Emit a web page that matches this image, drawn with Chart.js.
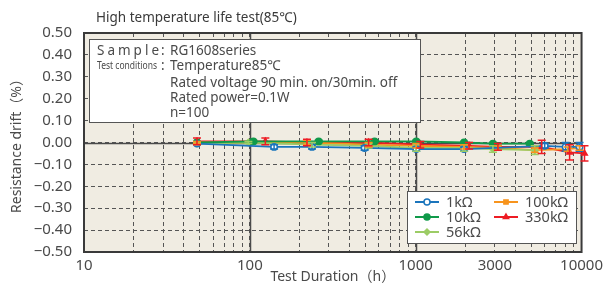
<!DOCTYPE html>
<html>
<head>
<meta charset="utf-8">
<script src="https://cdn.jsdelivr.net/npm/chart.js@4.4.0/dist/chart.umd.min.js"></script>
<style>
  html, body { margin: 0; padding: 0; background: #fff; }
</style>
</head>
<body>
<canvas id="lifeChart" width="608" height="284"></canvas>
<script>
// hours (each series is slightly offset in the original)
const oneKX = [48, 140, 237, 492, 1008, 1958, 5996, 8017, 9726];
const oneKY = [-0.005, -0.02, -0.02, -0.025, -0.03, -0.03, -0.015, -0.02, -0.02];
const oneKErr = [0.005, 0.01, 0.01, 0.01, 0.01, 0.01, 0.01, 0.02, 0.02];

const tenKX = [48, 105, 260, 565, 1008, 1958, 2922, 4872];
const tenKY = [0, 0.005, 0.005, 0.005, 0.005, 0, -0.005, -0.005];
const tenKErr = [0.005, 0.005, 0.005, 0.005, 0.005, 0.005, 0.005, 0.005];

const fiftySixKX = [48, 98, 237, 520, 1008, 1958, 2922, 5221];
const fiftySixKY = [-0.005, 0, -0.01, -0.015, -0.025, -0.025, -0.03, -0.035];
const fiftySixKErr = [0.005, 0.005, 0.01, 0.01, 0.015, 0.015, 0.015, 0.02];

const hundredKX = [48, 221, 520, 1008, 1958, 3131, 5221, 8241, 9726];
const hundredKY = [0, 0, -0.01, -0.015, -0.02, -0.025, -0.035, -0.03, -0.025];
const hundredKErr = [0.005, 0.01, 0.01, 0.01, 0.01, 0.01, 0.01, 0.01, 0.01];

const threeThirtyKX = [48, 124, 221, 520, 1066, 2098, 3131, 5750, 8472, 10420];
const threeThirtyKY = [0.005, 0.005, 0, 0, -0.01, -0.015, -0.02, -0.02, -0.045, -0.05];
const threeThirtyKErr = [0.015, 0.015, 0.015, 0.015, 0.015, 0.015, 0.015, 0.03, 0.035, 0.035];

const gridHours = [10, 20, 30, 40, 50, 60, 70, 80, 90,
  100, 200, 300, 400, 500, 600, 700, 800, 900,
  1000, 2000, 3000, 4000, 5000, 6000, 7000, 8000, 9000, 10000];
const hourLabels = [10, 100, 1000, 3000, 10000];

const FONT = '"Noto Sans", "Noto Sans CJK JP", sans-serif';
const TEXT = '#4a4a4a';

function pts(xs, ys) {
  return xs.map((x, i) => ({ x: x, y: ys[i] }));
}

function series(label, xs, ys, errs, color, style, fill) {
  return {
    label: label,
    data: pts(xs, ys),
    errors: errs,
    borderColor: color,
    backgroundColor: fill,
    pointBackgroundColor: fill,
    pointBorderColor: color,
    pointStyle: style,
    pointRadius: 3.2,
    pointBorderWidth: 1.5,
    borderWidth: 1.8,
    showLine: true,
    clip: 10
  };
}

const datasets = [
  series('1kΩ', oneKX, oneKY, oneKErr, '#1b75bc', 'circle', '#ffffff'),
  series('10kΩ', tenKX, tenKY, tenKErr, '#109a4a', 'circle', '#109a4a'),
  series('56kΩ', fiftySixKX, fiftySixKY, fiftySixKErr, '#9ccc65', 'rectRot', '#9ccc65'),
  series('100kΩ', hundredKX, hundredKY, hundredKErr, '#f7941d', 'rect', '#f7941d'),
  series('330kΩ', threeThirtyKX, threeThirtyKY, threeThirtyKErr, '#ed1c24', 'triangle', '#ed1c24')
];

const framePlugin = {
  id: 'frame',
  beforeDraw(chart) {
    const { ctx, chartArea: a } = chart;
    ctx.save();
    ctx.fillStyle = '#f0ece2';
    ctx.fillRect(a.left, a.top, a.right - a.left, a.bottom - a.top);
    ctx.restore();
  },
  beforeDatasetsDraw(chart) {
    const { ctx, chartArea: a, scales: { x, y } } = chart;
    ctx.save();
    ctx.strokeStyle = '#4a4a4a';
    ctx.lineWidth = 1.5;
    ctx.beginPath();
    [100, 1000].forEach(v => {
      const px = Math.round(x.getPixelForValue(v)) + 0.5;
      ctx.moveTo(px, a.top);
      ctx.lineTo(px, a.bottom);
    });
    const zy = Math.round(y.getPixelForValue(0)) + 0.5;
    ctx.moveTo(a.left, zy);
    ctx.lineTo(a.right, zy);
    ctx.stroke();
    ctx.lineWidth = 2;
    ctx.strokeStyle = '#3a3a3a';
    ctx.strokeRect(a.left, a.top, a.right - a.left, a.bottom - a.top);
    ctx.restore();
  }
};

const errorBarPlugin = {
  id: 'errorBars',
  afterDatasetsDraw(chart) {
    const { ctx, scales: { x, y } } = chart;
    chart.data.datasets.forEach(ds => {
      ctx.save();
      ctx.strokeStyle = ds.borderColor;
      ctx.lineWidth = 1.5;
      ctx.beginPath();
      ds.data.forEach((p, j) => {
        const e = ds.errors[j];
        const px = x.getPixelForValue(p.x);
        const t = y.getPixelForValue(p.y + e);
        const b = y.getPixelForValue(p.y - e);
        ctx.moveTo(px, t); ctx.lineTo(px, b);
        ctx.moveTo(px - 4, t); ctx.lineTo(px + 4, t);
        ctx.moveTo(px - 4, b); ctx.lineTo(px + 4, b);
      });
      ctx.stroke();
      ctx.restore();
    });
  }
};

const notesPlugin = {
  id: 'notes',
  afterDraw(chart) {
    const ctx = chart.ctx;
    ctx.save();
    ctx.fillStyle = '#3a3a3a';
    ctx.textBaseline = 'middle';
    ctx.font = '13.5px ' + FONT;
    ctx.fillText('High temperature life test(85℃)', 96, 18);

    // condition box
    ctx.fillStyle = '#fff';
    ctx.fillRect(89.5, 39.5, 331, 83);
    ctx.strokeStyle = '#555';
    ctx.lineWidth = 1;
    ctx.strokeRect(89.5, 39.5, 331, 83);

    ctx.fillStyle = '#4a4a4a';
    ctx.font = '13.5px ' + FONT;
    ctx.letterSpacing = '3px';
    ctx.fillText('Sample', 97, 51);
    ctx.letterSpacing = '0px';
    ctx.fillText(':', 161, 51);
    ctx.fillText('RG1608series', 170, 51);
    ctx.font = '11px ' + FONT;
    ctx.fillText('Test conditions', 97, 66, 60);
    ctx.font = '13.5px ' + FONT;
    ctx.fillText(':', 161, 66);
    ctx.fillText('Temperature85℃', 170, 66);
    ctx.fillText('Rated voltage 90 min. on/30min. off', 170, 83, 240);
    ctx.fillText('Rated power=0.1W', 170, 98);
    ctx.fillText('n=100', 170, 113);

    // legend box
    ctx.fillStyle = '#fff';
    ctx.fillRect(407.5, 191.5, 169, 52);
    ctx.strokeRect(407.5, 191.5, 169, 52);
    const slots = [[415, 202], [415, 217], [415, 232], [494, 202], [494, 217]];
    chart.data.datasets.forEach((ds, i) => {
      const [lx, ly] = slots[i];
      ctx.strokeStyle = ds.borderColor;
      ctx.lineWidth = 2;
      ctx.beginPath();
      ctx.moveTo(lx, ly); ctx.lineTo(lx + 24, ly);
      ctx.stroke();
      ctx.fillStyle = ds.pointBackgroundColor;
      ctx.lineWidth = 1.5;
      Chart.helpers.drawPoint(ctx, { pointStyle: ds.pointStyle, radius: 3, rotation: 0, borderWidth: 1.5 }, lx + 12, ly);
      ctx.fillStyle = '#4a4a4a';
      ctx.font = '14.5px ' + FONT;
      ctx.fillText(ds.label, lx + 31, ly + 1);
    });
    ctx.restore();
  }
};

new Chart(document.getElementById('lifeChart'), {
  type: 'scatter',
  data: { datasets: datasets },
  plugins: [framePlugin, errorBarPlugin, notesPlugin],
  options: {
    responsive: false,
    animation: false,
    layout: { padding: { top: 33, right: 24, bottom: 0, left: 0 } },
    plugins: { legend: { display: false }, tooltip: { enabled: false } },
    scales: {
      x: {
        type: 'logarithmic',
        min: 10,
        max: 10000,
        afterBuildTicks: s => { s.ticks = gridHours.map(v => ({ value: v })); },
        afterFit: s => { s.height = 32; },
        grid: { color: '#555', lineWidth: 1, drawTicks: false },
        border: { display: false, dash: [4, 3] },
        ticks: {
          autoSkip: false,
          maxRotation: 0,
          padding: 5,
          color: TEXT,
          font: { family: FONT, size: 15 },
          callback: v => hourLabels.includes(v) ? String(v) : ''
        },
        title: {
          display: true,
          text: 'Test Duration（h）',
          color: TEXT,
          font: { family: FONT, size: 14, lineHeight: 1 },
          padding: { top: 0, bottom: 0 }
        }
      },
      y: {
        min: -0.5,
        max: 0.5,
        afterFit: s => { s.width = 84; },
        grid: { color: '#555', lineWidth: 1, drawTicks: false },
        border: { display: false, dash: [4, 3] },
        ticks: {
          stepSize: 0.1,
          padding: 12,
          color: TEXT,
          font: { family: FONT, size: 15 },
          callback: v => Math.abs(v) < 1e-9 ? '0.00' : (v < 0 ? '\u2212' + Math.abs(v).toFixed(2) : v.toFixed(2))
        },
        title: {
          display: true,
          text: 'Resistance drift（%）',
          color: TEXT,
          font: { family: FONT, size: 14 },
          padding: { top: 9, bottom: 0 }
        }
      }
    }
  }
});
</script>
</body>
</html>
